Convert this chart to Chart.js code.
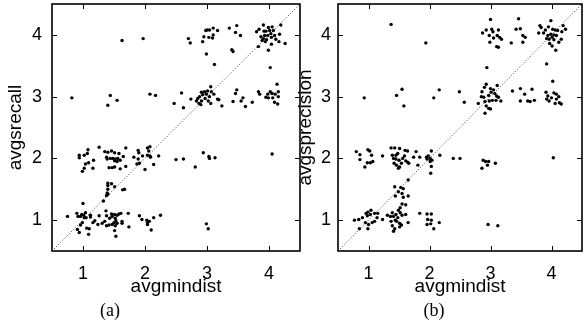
<!DOCTYPE html>
<html>
<head>
<meta charset="utf-8">
<script src="https://cdn.jsdelivr.net/npm/chart.js@4/dist/chart.umd.min.js"></script>
<style>
  html, body { margin: 0; padding: 0; background: #fff; }
  #wrap { position: relative; width: 584px; height: 330px; overflow: hidden; }
  canvas { position: absolute; top: 0; }
  #ca { left: 0; }
  #cb { left: 290px; }
  .cap {
    position: absolute; transform: translate(-50%, -50%);
    font: 18px "Liberation Serif", "Times New Roman", serif; color: #000; white-space: nowrap;
  }
</style>
</head>
<body>
<div id="wrap">
  <canvas id="ca" width="310" height="330"></canvas>
  <canvas id="cb" width="296" height="330"></canvas>
  <div class="cap" style="left:110px; top:310px">(a)</div>
  <div class="cap" style="left:434px; top:310px">(b)</div>
</div>
<script>
// axis ticks and range
const xTicks = [1, 2, 3, 4];
const yTicks = [1, 2, 3, 4];
const axisMin = 0.5;
const axisMax = 4.5;
const diagonal = [[0.5, 0.5], [4.5, 4.5]];

// (a) avgmindist vs avgsrecall
const recallPoints = [
  [1.63,3.91],[1.97,3.94],[0.82,2.98],[1.44,3.02],[1.40,2.86],[1.55,2.94],[2.08,3.04],[2.17,3.02],[2.47,2.89],
  [0.94,2.05],[0.94,2.01],[1.02,2.05],[1.08,2.14],[1.07,2.08],[1.17,1.97],[1.04,1.91],[1.09,1.93],[1.02,1.84],
  [0.99,1.79],[1.16,1.84],[1.26,2.18],[1.35,2.11],[1.40,2.10],[1.46,2.12],[1.51,2.09],[1.58,2.08],[1.69,2.17],
  [1.38,2.02],[1.39,1.99],[1.44,2.00],[1.48,2.00],[1.52,1.99],[1.56,2.00],[1.60,1.97],[1.51,1.96],[1.55,1.95],
  [1.42,1.85],[1.47,1.85],[1.51,1.86],[1.60,1.83],[1.69,1.87],[1.65,2.03],[1.82,2.02],[1.89,2.13],[1.90,2.09],
  [1.89,1.99],[1.96,2.04],[1.87,1.91],[1.91,1.92],[2.00,1.82],[2.04,2.05],[2.06,2.12],[2.08,2.19],[2.08,2.04],
  [2.09,2.02],[2.14,1.90],[2.22,2.04],[2.04,2.17],[1.40,1.60],[1.40,1.56],[1.40,1.50],[1.46,1.59],[1.51,1.54],
  [1.39,1.44],[1.40,1.42],[1.38,1.40],[1.33,1.31],[1.64,1.49],[1.67,1.50],[1.00,1.27],[0.75,1.06],[0.90,1.11],
  [0.92,1.06],[0.96,1.06],[0.98,1.09],[1.01,1.08],[1.04,1.12],[1.02,1.04],[1.05,1.04],[1.12,1.08],[1.12,1.05],
  [0.99,0.96],[0.96,0.92],[0.91,0.85],[0.94,0.80],[1.06,0.87],[1.10,0.86],[1.09,0.77],[1.16,0.96],[1.19,0.99],
  [1.24,0.93],[1.26,1.07],[1.31,0.95],[1.37,1.15],[1.38,1.07],[1.35,0.98],[1.38,0.91],[1.43,1.03],[1.46,1.10],
  [1.47,1.06],[1.51,1.09],[1.55,1.08],[1.58,1.10],[1.61,1.11],[1.52,1.03],[1.53,0.99],[1.50,0.96],[1.47,0.93],
  [1.55,0.95],[1.63,0.98],[1.63,0.95],[1.52,0.91],[1.51,0.83],[1.53,0.74],[1.42,0.92],[1.73,1.11],[1.74,0.89],
  [1.91,1.07],[1.95,1.01],[2.03,1.00],[2.04,0.96],[2.07,0.98],[2.04,0.93],[2.10,0.84],[2.14,1.04],[2.25,1.08],
  [2.70,3.94],[2.73,3.87],[2.93,3.89],[2.95,3.97],[2.98,4.07],[3.00,4.08],[3.04,4.08],[3.03,3.96],[3.10,4.11],
  [3.10,4.00],[3.09,3.95],[3.17,4.07],[2.99,3.69],[3.12,3.52],[3.36,4.11],[3.48,4.15],[3.46,4.04],[3.54,3.99],
  [3.40,3.76],[3.42,3.73],[3.80,4.05],[3.84,4.09],[3.91,4.16],[3.87,3.97],[3.91,3.94],[3.89,3.91],[3.93,3.99],
  [3.95,4.06],[3.99,4.12],[4.01,4.07],[4.03,4.02],[3.98,3.99],[3.96,3.92],[3.94,3.89],[4.04,3.96],[4.07,4.07],
  [4.09,3.99],[4.11,3.93],[4.04,3.85],[3.99,3.75],[3.83,3.81],[4.17,4.01],[4.16,3.89],[4.19,4.16],[4.26,3.86],
  [4.02,3.47],[3.92,4.06],[4.05,4.13],[2.59,3.06],[2.62,2.82],[2.74,2.96],[2.83,2.93],[2.85,2.97],[2.88,3.00],
  [2.87,2.89],[2.91,3.07],[2.93,3.03],[2.96,3.08],[2.99,3.04],[3.01,3.09],[3.06,3.16],[3.07,3.08],[3.11,3.04],
  [3.04,3.00],[2.97,2.97],[3.02,2.93],[3.06,2.89],[2.91,2.93],[2.90,2.87],[3.17,2.96],[3.19,2.95],[3.24,2.85],
  [3.42,2.92],[3.46,3.05],[3.48,3.11],[3.55,2.93],[3.58,2.98],[3.62,2.84],[3.73,2.91],[3.83,3.08],[3.85,3.04],
  [3.95,2.99],[3.98,3.04],[4.02,3.08],[4.05,3.05],[4.06,2.98],[4.09,2.91],[4.13,3.20],[4.15,3.08],[4.15,3.00],
  [4.14,2.88],[4.10,3.04],[3.99,2.98],[2.50,1.98],[2.62,1.99],[2.81,1.86],[2.94,2.09],[3.03,2.03],[3.04,2.00],
  [3.13,2.01],[4.05,2.07],[2.99,0.94],[3.02,0.86]
];

// (b) avgmindist vs avgsprecision
const precisionPoints = [
  [1.37,4.17],[1.94,3.87],[0.93,2.98],[1.46,3.02],[1.55,3.12],[1.58,2.85],[2.07,2.98],[2.16,3.11],[2.49,3.08],
  [0.80,2.11],[0.86,2.06],[0.86,1.98],[0.99,2.14],[1.02,2.12],[1.05,2.05],[1.07,1.95],[1.03,1.93],[0.98,1.93],
  [0.94,1.86],[1.23,2.04],[1.37,2.17],[1.43,2.17],[1.51,2.16],[1.39,2.05],[1.45,2.05],[1.48,2.08],[1.41,2.00],
  [1.45,1.99],[1.50,1.97],[1.42,1.92],[1.46,1.89],[1.51,1.86],[1.54,1.92],[1.56,2.00],[1.59,2.04],[1.60,2.13],
  [1.64,2.12],[1.61,1.96],[1.64,1.94],[1.66,1.92],[1.74,2.02],[1.78,2.11],[1.84,2.02],[1.81,1.89],[1.95,2.02],
  [1.98,2.04],[2.03,2.12],[1.96,1.99],[2.01,2.00],[2.01,1.95],[2.03,1.87],[2.02,1.76],[2.04,1.97],[2.17,2.05],
  [2.39,2.00],[1.49,1.84],[1.65,1.65],[1.43,1.54],[1.53,1.53],[1.57,1.51],[1.49,1.46],[1.44,1.39],[1.55,1.43],
  [1.57,1.37],[1.65,1.39],[0.77,1.00],[0.84,1.01],[0.90,1.04],[0.96,1.11],[0.99,1.13],[1.04,1.16],[0.98,1.07],
  [1.03,1.09],[1.10,1.11],[1.14,1.04],[1.15,1.11],[1.23,1.01],[0.95,0.96],[1.00,0.93],[1.06,0.96],[1.10,0.98],
  [0.85,0.86],[0.99,0.86],[1.31,1.08],[1.36,1.06],[1.39,1.12],[1.41,1.06],[1.45,1.09],[1.49,1.16],[1.52,1.20],
  [1.55,1.26],[1.61,1.25],[1.52,1.12],[1.55,1.08],[1.61,1.09],[1.48,1.04],[1.44,1.00],[1.37,0.98],[1.46,0.98],
  [1.51,0.95],[1.65,0.96],[1.39,0.91],[1.43,0.86],[1.41,0.82],[1.51,0.89],[1.54,0.92],[1.84,1.11],[1.96,1.10],
  [2.03,1.10],[1.97,1.01],[2.03,1.00],[1.96,0.93],[2.02,0.94],[2.07,0.86],[2.16,0.96],
  [3.00,4.25],[2.87,4.03],[2.93,4.08],[3.02,4.09],[3.04,4.05],[2.98,3.99],[3.05,3.95],[3.13,4.08],[3.11,3.99],
  [3.15,3.96],[3.18,3.93],[2.99,3.88],[3.10,3.81],[3.13,3.80],[3.46,4.26],[3.42,4.09],[3.49,4.10],[3.53,3.99],
  [3.57,3.96],[3.34,3.87],[3.53,3.88],[3.81,4.15],[3.83,4.12],[3.79,4.03],[3.87,4.03],[3.90,4.08],[3.99,4.23],
  [3.95,4.13],[4.02,4.09],[4.06,4.08],[4.10,4.07],[3.94,3.99],[3.99,4.01],[4.04,4.00],[4.08,3.99],[3.92,3.94],
  [3.96,3.93],[4.01,3.96],[4.04,3.92],[3.97,3.86],[4.01,3.82],[4.07,3.75],[4.16,3.93],[4.17,4.05],[4.19,4.15],
  [4.23,4.09],[4.12,3.88],[3.92,3.53],[2.94,3.47],[2.57,2.91],[2.80,2.89],[2.85,3.00],[2.89,2.99],[2.93,3.20],
  [3.00,3.13],[3.05,3.11],[3.11,3.18],[3.01,3.07],[3.07,3.05],[2.90,3.15],[2.86,3.08],[2.97,3.02],[3.10,3.01],
  [3.13,2.99],[3.17,2.93],[2.91,2.92],[2.98,2.93],[3.03,2.94],[2.93,2.85],[2.97,2.81],[3.00,2.80],[2.91,2.73],
  [3.09,2.94],[3.36,3.09],[3.49,3.13],[3.56,3.04],[3.68,3.12],[3.49,2.93],[3.61,2.93],[3.65,2.92],[3.72,2.94],
  [4.02,3.25],[3.91,3.07],[3.94,3.01],[3.92,2.96],[3.96,2.93],[4.00,2.98],[4.04,3.06],[4.08,3.04],[4.12,3.00],
  [4.06,2.89],[4.13,2.90],[4.16,2.88],[4.08,2.96],[2.50,2.00],[2.88,1.97],[2.92,1.95],[2.97,1.95],[2.95,1.89],
  [2.86,1.84],[3.08,1.92],[4.03,2.01],[2.96,0.93],[3.12,0.91]
];

Chart.defaults.font.family = '"Liberation Sans", Arial, Helvetica, sans-serif';
Chart.defaults.color = '#000';

const TICK_LEN = 5;

// box around the plot and gnuplot style inward tics on all four sides
const framePlugin = {
  id: 'frame',
  afterDatasetsDraw(chart) {
    const { ctx, chartArea: a, scales: { x, y } } = chart;
    ctx.save();
    ctx.strokeStyle = '#000';
    ctx.lineWidth = 1;
    ctx.beginPath();
    x.ticks.forEach(t => {
      const px = Math.round(x.getPixelForValue(t.value)) + 0.5;
      ctx.moveTo(px, a.bottom); ctx.lineTo(px, a.bottom - TICK_LEN);
      ctx.moveTo(px, a.top); ctx.lineTo(px, a.top + TICK_LEN);
    });
    y.ticks.forEach(t => {
      const py = Math.round(y.getPixelForValue(t.value)) + 0.5;
      ctx.moveTo(a.left, py); ctx.lineTo(a.left + TICK_LEN, py);
      ctx.moveTo(a.right, py); ctx.lineTo(a.right - TICK_LEN, py);
    });
    ctx.stroke();
    ctx.lineWidth = 1.6;
    ctx.strokeRect(a.left, a.top, a.right - a.left, a.bottom - a.top);
    ctx.restore();
  }
};

function makeChart(el, points, yTitle, yWidth, yPad, padRight) {
  return new Chart(el, {
    type: 'scatter',
    data: {
      datasets: [
        {
          data: diagonal.map(([x, y]) => ({ x, y })),
          showLine: true,
          borderColor: '#333',
          borderWidth: 1,
          borderDash: [1, 2],
          pointRadius: 0,
          fill: false
        },
        {
          data: points.map(([x, y]) => ({ x, y })),
          backgroundColor: '#000',
          borderColor: '#000',
          borderWidth: 0,
          pointRadius: 1.7
        }
      ]
    },
    options: {
      responsive: false,
      animation: false,
      devicePixelRatio: 1,
      layout: { padding: { left: 0, top: 4, right: padRight, bottom: 31.6 } },
      plugins: { legend: { display: false }, tooltip: { enabled: false } },
      scales: {
        x: {
          type: 'linear', min: axisMin, max: axisMax,
          afterBuildTicks: s => { s.ticks = xTicks.map(v => ({ value: v })); },
          afterFit: s => { s.height = 47.4; s.paddingLeft = 0; s.paddingRight = 0; },
          grid: { display: false, drawTicks: false },
          border: { display: false },
          ticks: { padding: 12, font: { size: 18 }, maxRotation: 0, autoSkip: false },
          title: { display: true, text: 'avgmindist', font: { size: 19 }, padding: { top: 0, bottom: 0 } }
        },
        y: {
          type: 'linear', min: axisMin, max: axisMax,
          afterBuildTicks: s => { s.ticks = yTicks.map(v => ({ value: v })); },
          afterFit: s => { s.width = yWidth; s.paddingTop = 0; s.paddingBottom = 0; },
          grid: { display: false, drawTicks: false },
          border: { display: false },
          ticks: { padding: yPad, font: { size: 18 }, autoSkip: false },
          title: { display: true, text: yTitle, font: { size: 19 }, padding: { top: 4, bottom: 0 } }
        }
      }
    },
    plugins: [framePlugin]
  });
}

makeChart(document.getElementById('ca'), recallPoints, 'avgsrecall', 52, 10, 10);
makeChart(document.getElementById('cb'), precisionPoints, 'avgsprecision', 48, 7, 1);
</script>
</body>
</html>
